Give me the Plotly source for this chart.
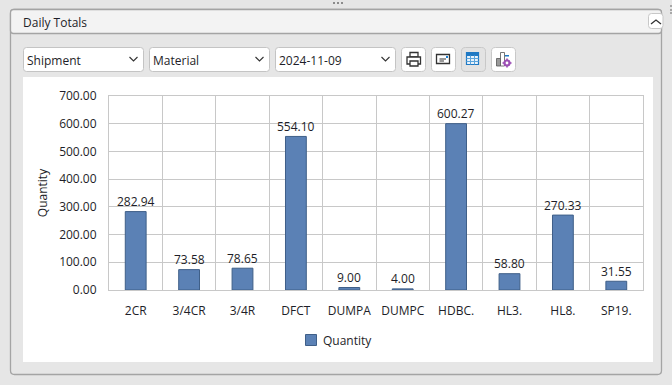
import plotly.graph_objects as go

categories = ["2CR", "3/4CR", "3/4R", "DFCT", "DUMPA", "DUMPC", "HDBC.", "HL3.", "HL8.", "SP19."]
quantity = [282.94, 73.58, 78.65, 554.10, 9.00, 4.00, 600.27, 58.80, 270.33, 31.55]
y_ticks = [0, 100, 200, 300, 400, 500, 600, 700]
series_name = "Quantity"
panel_title = "Daily Totals"
selectors = ["Shipment", "Material", "2024-11-09"]

W, H = 672, 385
L, R, T, B = 109, 643, 96, 290
FONT = "Open Sans"
TEXT = "#1e1e28"
BAR = "#5b81b5"
BAR_LINE = "#3f5f88"


def px(x):
    return (x - L) / (R - L)


def py(y):
    return (B - y) / (B - T)


def rrect(x0, y0, x1, y1, r=3):
    c = [(x0 + r, y0), (x1 - r, y0), (x1, y0 + r), (x1, y1 - r), (x1 - r, y1), (x0 + r, y1), (x0, y1 - r), (x0, y0 + r)]
    p = lambda t: f"{px(t[0]):.5f},{py(t[1]):.5f}"
    return (
        f"M{p(c[0])} L{p(c[1])} Q{p((x1, y0))} {p(c[2])} L{p(c[3])} Q{p((x1, y1))} {p(c[4])} "
        f"L{p(c[5])} Q{p((x0, y1))} {p(c[6])} L{p(c[7])} Q{p((x0, y0))} {p(c[0])} Z"
    )


def box(x0, y0, x1, y1, fill, line="rgba(0,0,0,0)", r=3, width=1):
    return dict(type="path", xref="paper", yref="paper", path=rrect(x0, y0, x1, y1, r), fillcolor=fill,
                line=dict(color=line, width=width), layer="below")


def rect(x0, y0, x1, y1, fill, line="rgba(0,0,0,0)", width=1):
    return dict(type="rect", xref="paper", yref="paper", x0=px(x0), x1=px(x1), y0=py(y0), y1=py(y1),
                fillcolor=fill, line=dict(color=line, width=width), layer="below")


def seg(points, color="#333333", width=1.2):
    d = "M" + " L".join(f"{px(a):.5f},{py(b):.5f}" for a, b in points)
    return dict(type="path", xref="paper", yref="paper", path=d, line=dict(color=color, width=width), layer="below")


def label(text, x, y, xanchor="left", color=TEXT):
    return dict(text=text, x=px(x), y=py(y), xref="paper", yref="paper", xanchor=xanchor, yanchor="middle",
                showarrow=False, borderpad=0, borderwidth=0, font=dict(family=FONT, size=12, color=color))


shapes = [
    # panel
    box(10.5, 9.5, 661.5, 374.5, "#e6e6e6", "#a4a4a4", 4, 1.3),
    box(10.5, 9.5, 661.5, 33.5, "#f3f3f3", "#a4a4a4", 3, 1.3),
    # collapse button
    box(648.5, 13.5, 663, 28.5, "#ffffff", "#c8c8c8", 3),
    seg([(651, 24), (656, 20), (661, 24)], "#333333", 1.3),
    # chart canvas
    rect(23, 77, 653, 362, "#ffffff"),
    # legend swatch
    rect(305.5, 334.5, 316.5, 345.5, BAR, BAR_LINE, 1),
]

# grips
for gx in (333, 337, 341):
    shapes.append(rect(gx, 2, gx + 2, 4, "#8c8c8c"))
for gy in (5, 9, 12):
    shapes.append(rect(670, gy, 672, gy + 2, "#a8a8a8"))

for x0, x1 in [(23.5, 143.5), (149.5, 269.5), (275.5, 395.5)]:
    shapes.append(box(x0, 47.5, x1, 71.5, "#ffffff", "#c4c4c4", 3))
    shapes.append(seg([(x1 - 14, 57), (x1 - 10, 61), (x1 - 6, 57)], "#333333", 1.1))

for x0, fill in [(401.5, "#ffffff"), (431.5, "#ffffff"), (461.5, "#e3e3e3"), (491.5, "#ffffff")]:
    shapes.append(box(x0, 47.5, x0 + 24, 71.5, fill, "#c8c8c8", 4))

# printer icon
shapes += [
    rect(410, 52.5, 418, 57, "#ffffff", "#333333", 1.3),
    rect(407, 57, 420.5, 64, "#ffffff", "#333333", 1.3),
    rect(410, 61, 418, 66, "#ffffff", "#333333", 1.3),
    # card icon
    rect(436.5, 54.5, 449.5, 63.5, "#ffffff", "#333333", 1.3),
    seg([(439.5, 59), (446, 59)], "#333333", 1),
    seg([(439.5, 61), (444, 61)], "#333333", 1),
    rect(446, 56, 448, 58, "#1c7ed0"),
    # table icon
    rect(466.5, 52.5, 478.5, 64.5, "#eaf3fb", "#1f79c4", 1.2),
    rect(466.5, 52.5, 478.5, 55.5, "#1f79c4", "#1f79c4", 1),
    seg([(470.5, 55.5), (470.5, 64.5)], "#5ba4dc", 1),
    seg([(474.5, 55.5), (474.5, 64.5)], "#5ba4dc", 1),
    seg([(466.5, 58.5), (478.5, 58.5)], "#5ba4dc", 1),
    seg([(466.5, 61.5), (478.5, 61.5)], "#5ba4dc", 1),
    # settings-chart icon
    rect(496.5, 58.5, 500.5, 66, "#9a9a9a", "#555555", 0.8),
    rect(500.5, 52.5, 504.5, 66, "#ffffff", "#555555", 0.8),
    rect(505, 55, 509, 56.5, "#1f79c4"),
    seg([(507, 58.5), (507, 67.5)], "#9c4fb5", 1.6),
    seg([(502.5, 63), (511.5, 63)], "#9c4fb5", 1.6),
    dict(type="circle", xref="paper", yref="paper", x0=px(504.5), x1=px(509.5), y0=py(60.5), y1=py(65.5),
         fillcolor="#ffffff", line=dict(color="#9c4fb5", width=2.2), layer="below"),
]

annotations = [
    label(panel_title, 23, 22),
    label(selectors[0], 27, 60),
    label(selectors[1], 153, 60),
    label(selectors[2], 279, 60),
    label(series_name, 323, 340),
]

for cat, val in zip(categories, quantity):
    annotations.append(
        dict(text=f"{val:.2f}", x=cat, y=val, xref="x", yref="y", xanchor="center", yanchor="middle", yshift=10,
             showarrow=False, borderpad=0, borderwidth=0, font=dict(family=FONT, size=12, color=TEXT))
    )

fig = go.Figure(
    go.Bar(
        x=categories,
        y=quantity,
        name=series_name,
        width=0.39,
        marker=dict(color=BAR, line=dict(color=BAR_LINE, width=1)),
    )
)

fig.update_layout(
    width=W,
    height=H,
    margin=dict(l=L, r=W - R, t=T, b=H - B, pad=0),
    paper_bgcolor="#e6e6e6",
    plot_bgcolor="rgba(0,0,0,0)",
    font=dict(family=FONT, size=12, color=TEXT),
    shapes=shapes,
    annotations=annotations,
    showlegend=False,
)
fig.update_xaxes(
    type="category",
    tickson="boundaries",
    showgrid=True,
    gridcolor="#c8c8c8",
    gridwidth=1,
    showline=True,
    linecolor="#c8c8c8",
    mirror=True,
    ticks="",
    ticklabelstandoff=10,
    tickfont=dict(family=FONT, size=12, color=TEXT),
)
fig.update_yaxes(
    range=[0, 700],
    tickvals=y_ticks,
    tickformat=".2f",
    showgrid=True,
    gridcolor="#c8c8c8",
    gridwidth=1,
    showline=True,
    linecolor="#c8c8c8",
    mirror=True,
    zeroline=False,
    ticks="",
    ticklabelstandoff=9,
    tickfont=dict(family=FONT, size=12, color=TEXT),
    title=dict(text=series_name, standoff=8, font=dict(family=FONT, size=12, color=TEXT)),
)

fig.write_html("out.html", config=dict(displayModeBar=False),
               post_script="document.body.style.margin='0';document.body.style.overflow='hidden';")
